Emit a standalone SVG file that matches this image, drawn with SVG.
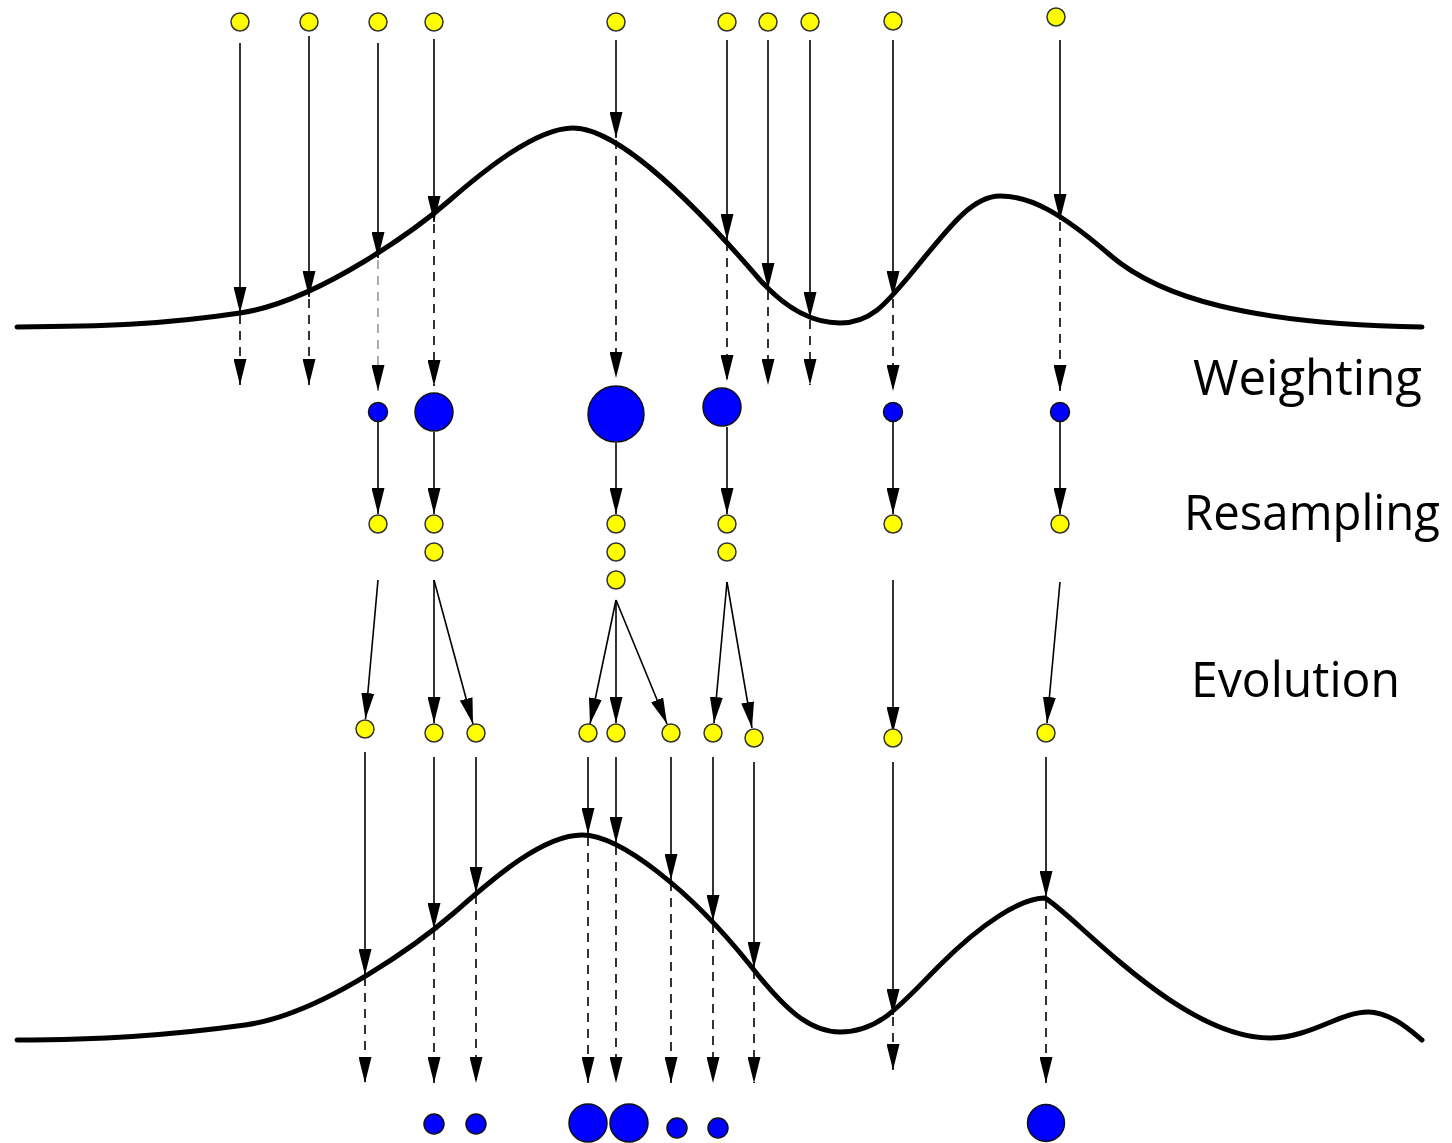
<svg xmlns="http://www.w3.org/2000/svg" width="1452" height="1143" viewBox="0 0 1452 1143">
<defs>
<marker id="ah" viewBox="0 0 26 13" markerWidth="26" markerHeight="13" refX="26" refY="6.5" orient="auto" markerUnits="userSpaceOnUse">
<path d="M0,0 L26,6.5 L0,13 z" fill="#000"/>
</marker>
</defs>
<style>
.y{fill:#ffff00;stroke:#333;stroke-width:1.5}
.b{fill:#0000ff;stroke:#111;stroke-width:1.5}
.s{stroke:#000;stroke-width:1.6;fill:none;marker-end:url(#ah)}
.d{stroke:#000;stroke-width:1.6;fill:none;stroke-dasharray:9 7;marker-end:url(#ah)}
.curve{fill:none;stroke:#000;stroke-width:5;stroke-linejoin:round;stroke-linecap:round}
.lbl{font-family:"Open Sans","DejaVu Sans",sans-serif;font-size:50px;fill:#000}
</style>
<rect width="1452" height="1143" fill="#fff"/>
<g id="curves">
<path id="curve-top" class="curve" d="M17,327 C100,326.5 160,325 240,313 C320,301 420,226 450,200 C480,174 535,128 573,128 C620,128 700,210 760,280 C787,310 815,323 840,323 C870,323 885,305 910,275 C945,233 970,196 1000,196 C1030,196 1060,212 1110,255 C1160,298 1250,324 1422,327"/>
<path id="curve-bottom" class="curve" d="M17,1040 C100,1039.5 165,1036 245,1025 C325,1014 425,938 455,912 C485,886 540,835 582,835 C620,835 690,890 750,965 C785,1010 810,1032 840,1032 C880,1032 900,1005 940,965 C980,925 1020,898 1045,898 C1075,915 1180,1038 1270,1038 C1310,1038 1340,1012 1368,1012 C1390,1012 1410,1030 1422,1040"/>
</g>
<g id="connectors">
<line class="s" x1="240" y1="43" x2="240" y2="313"/>
<line class="s" x1="309" y1="36" x2="309" y2="297"/>
<line class="s" x1="378" y1="43" x2="378" y2="258"/>
<line class="s" x1="434" y1="39" x2="434" y2="222"/>
<line class="s" x1="616" y1="40" x2="616" y2="138"/>
<line class="s" x1="727" y1="40" x2="727" y2="240"/>
<line class="s" x1="768" y1="40" x2="768" y2="289"/>
<line class="s" x1="810" y1="40" x2="810" y2="318"/>
<line class="s" x1="893" y1="40" x2="893" y2="297"/>
<line class="s" x1="1060" y1="40" x2="1060" y2="220"/>
<line class="d" x1="240" y1="315" x2="240" y2="385"/>
<line class="d" x1="309" y1="299" x2="309" y2="385"/>
<line class="d" x1="378" y1="260" x2="378" y2="391" style="stroke:#999"/>
<line class="d" x1="434" y1="224" x2="434" y2="386"/>
<line class="d" x1="616" y1="140" x2="616" y2="378"/>
<line class="d" x1="727" y1="242" x2="727" y2="381"/>
<line class="d" x1="768" y1="291" x2="768" y2="385"/>
<line class="d" x1="810" y1="320" x2="810" y2="385"/>
<line class="d" x1="893" y1="299" x2="893" y2="391"/>
<line class="d" x1="1060" y1="222" x2="1060" y2="391"/>
<line class="s" x1="378" y1="422" x2="378" y2="514"/>
<line class="s" x1="434" y1="432" x2="434" y2="514"/>
<line class="s" x1="616" y1="443" x2="616" y2="514"/>
<line class="s" x1="727" y1="427" x2="727" y2="514"/>
<line class="s" x1="893" y1="422" x2="893" y2="514"/>
<line class="s" x1="1060" y1="422" x2="1060" y2="514"/>
<line class="s" x1="378" y1="580" x2="365.5" y2="719"/>
<line class="s" x1="434" y1="580" x2="434" y2="723"/>
<line class="s" x1="434" y1="580" x2="473" y2="724"/>
<line class="s" x1="616" y1="600" x2="590" y2="724"/>
<line class="s" x1="616" y1="600" x2="616" y2="723"/>
<line class="s" x1="616" y1="600" x2="667" y2="724"/>
<line class="s" x1="727" y1="582" x2="714" y2="723"/>
<line class="s" x1="727" y1="582" x2="752" y2="728"/>
<line class="s" x1="893" y1="580" x2="893" y2="733"/>
<line class="s" x1="1060" y1="582" x2="1047" y2="723"/>
<line class="s" x1="365" y1="752" x2="365" y2="975"/>
<line class="s" x1="434" y1="757" x2="434" y2="929"/>
<line class="s" x1="476" y1="757" x2="476" y2="893"/>
<line class="s" x1="588" y1="757" x2="588" y2="834"/>
<line class="s" x1="616" y1="757" x2="616" y2="843"/>
<line class="s" x1="671" y1="757" x2="671" y2="880"/>
<line class="s" x1="713" y1="757" x2="713" y2="921"/>
<line class="s" x1="754" y1="762" x2="754" y2="968"/>
<line class="s" x1="893" y1="762" x2="893" y2="1015"/>
<line class="s" x1="1046" y1="757" x2="1046" y2="897"/>
<line class="d" x1="365" y1="977" x2="365" y2="1083"/>
<line class="d" x1="434" y1="931" x2="434" y2="1083"/>
<line class="d" x1="476" y1="895" x2="476" y2="1083"/>
<line class="d" x1="588" y1="837" x2="588" y2="1083"/>
<line class="d" x1="616" y1="846" x2="616" y2="1083"/>
<line class="d" x1="671" y1="882" x2="671" y2="1083"/>
<line class="d" x1="713" y1="924" x2="713" y2="1083"/>
<line class="d" x1="754" y1="970" x2="754" y2="1083"/>
<line class="d" x1="893" y1="1017" x2="893" y2="1070"/>
<line class="d" x1="1046" y1="900" x2="1046" y2="1083"/>
</g>
<g id="particles-initial">
<circle id="p0-1" class="y" cx="240" cy="22" r="9"/>
<circle id="p0-2" class="y" cx="309" cy="22" r="9"/>
<circle id="p0-3" class="y" cx="378" cy="22" r="9"/>
<circle id="p0-4" class="y" cx="434" cy="22" r="9"/>
<circle id="p0-5" class="y" cx="616" cy="22" r="9"/>
<circle id="p0-6" class="y" cx="727" cy="22" r="9"/>
<circle id="p0-7" class="y" cx="768" cy="22" r="9"/>
<circle id="p0-8" class="y" cx="810" cy="22" r="9"/>
<circle id="p0-9" class="y" cx="893" cy="21" r="9"/>
<circle id="p0-10" class="y" cx="1056" cy="17" r="9"/>
</g>
<g id="weights-1">
<circle id="w1-1" class="b" cx="378" cy="412" r="9.5"/>
<circle id="w1-2" class="b" cx="434" cy="412" r="19"/>
<circle id="w1-3" class="b" cx="616" cy="414" r="28"/>
<circle id="w1-4" class="b" cx="722" cy="407" r="19"/>
<circle id="w1-5" class="b" cx="893" cy="412" r="9.5"/>
<circle id="w1-6" class="b" cx="1060" cy="412" r="9.5"/>
</g>
<g id="particles-resampled">
<circle id="r-1" class="y" cx="378" cy="524" r="9"/>
<circle id="r-2" class="y" cx="434" cy="524" r="9"/>
<circle id="r-3" class="y" cx="434" cy="552" r="9"/>
<circle id="r-4" class="y" cx="616" cy="524" r="9"/>
<circle id="r-5" class="y" cx="616" cy="552" r="9"/>
<circle id="r-6" class="y" cx="616" cy="580" r="9"/>
<circle id="r-7" class="y" cx="727" cy="524" r="9"/>
<circle id="r-8" class="y" cx="727" cy="552" r="9"/>
<circle id="r-9" class="y" cx="893" cy="524" r="9"/>
<circle id="r-10" class="y" cx="1060" cy="524" r="9"/>
</g>
<g id="particles-evolved">
<circle id="e-1" class="y" cx="365" cy="729" r="9"/>
<circle id="e-2" class="y" cx="434" cy="733" r="9"/>
<circle id="e-3" class="y" cx="476" cy="733" r="9"/>
<circle id="e-4" class="y" cx="588" cy="733" r="9"/>
<circle id="e-5" class="y" cx="616" cy="733" r="9"/>
<circle id="e-6" class="y" cx="671" cy="733" r="9"/>
<circle id="e-7" class="y" cx="713" cy="733" r="9"/>
<circle id="e-8" class="y" cx="754" cy="738" r="9"/>
<circle id="e-9" class="y" cx="893" cy="738" r="9"/>
<circle id="e-10" class="y" cx="1046" cy="733" r="9"/>
</g>
<g id="weights-2">
<circle id="w2-1" class="b" cx="434" cy="1124" r="10"/>
<circle id="w2-2" class="b" cx="476" cy="1124" r="10"/>
<circle id="w2-3" class="b" cx="588" cy="1123" r="19"/>
<circle id="w2-4" class="b" cx="629" cy="1123" r="19"/>
<circle id="w2-5" class="b" cx="677" cy="1128" r="10"/>
<circle id="w2-6" class="b" cx="718" cy="1128" r="10"/>
<circle id="w2-7" class="b" cx="1046" cy="1123" r="18.5"/>
</g>
<g id="labels">
<text id="lbl-weighting" class="lbl" x="1193" y="395" textLength="229" lengthAdjust="spacingAndGlyphs">Weighting</text>
<text id="lbl-resampling" class="lbl" x="1184" y="530" textLength="256" lengthAdjust="spacingAndGlyphs">Resampling</text>
<text id="lbl-evolution" class="lbl" x="1191" y="697" textLength="209" lengthAdjust="spacingAndGlyphs">Evolution</text>
</g>
</svg>
